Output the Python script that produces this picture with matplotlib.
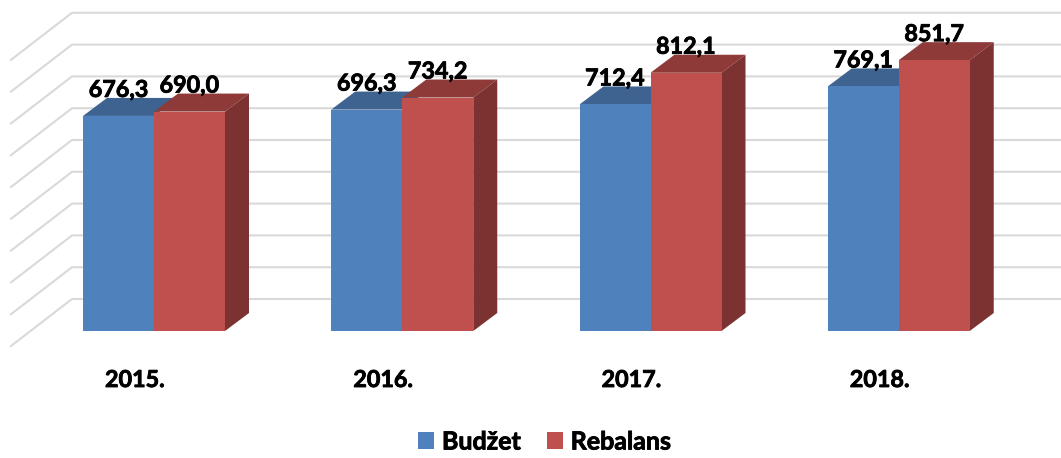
"""Budget vs rebalance bars, drawn in the fake 3D look of the original chart."""

import numpy as np
import matplotlib
matplotlib.use('Agg')
import matplotlib.pyplot as plt
import matplotlib.patheffects as pe
from matplotlib.patches import Patch

years = ['2015.', '2016.', '2017.', '2018.']
budzet = [676.3, 696.3, 712.4, 769.1]
rebalans = [690.0, 734.2, 812.1, 851.7]
series_names = ['Budžet', 'Rebalans']
grid_values = [0, 100, 200, 300, 400, 500, 600, 700, 800, 900]

BLUE, BLUE_TOP = '#4F81BD', '#3F6391'
RED, RED_TOP, RED_SIDE = '#C0504D', '#8E3A38', '#7B3230'
GRID = '#D9D9D9'

# scale of the axes: pixels per category and pixels per unit of value
PX_X = 248.25
PX_Y = 0.318
X0, Y0 = 154.0, 331.0  # pixel of category 0 / value 0
W, H = 1061, 458


def px_dx(p):
    return p / PX_X


def px_dy(p):
    return p / PX_Y


fig = plt.figure(figsize=(W / 100, H / 100), dpi=100)
ax = fig.add_axes([0, 0, 1, 1])
ax.set_xlim(-X0 / PX_X, (W - X0) / PX_X)
ax.set_ylim((Y0 - H) / PX_Y, Y0 / PX_Y)
ax.axis('off')

bar_w = px_dx(71)
depth_x, depth_y = px_dx(24), px_dy(18)
x = np.arange(len(years))

# gridlines: diagonal on the side wall then straight along the back wall
for v in grid_values:
    front = (px_dx(11 - X0), v - px_dy(15))
    back = (px_dx(72 - X0), v + px_dy(32))
    ax.plot([front[0], back[0], ax.get_xlim()[1]], [front[1], back[1], back[1]],
            color=GRID, lw=1.5, zorder=1, solid_joinstyle='miter')

for i in x:
    left = i - bar_w
    b, r = budzet[i], rebalans[i]
    # blue top, then the red box goes over it
    ax.fill([left, i, i + depth_x, left + depth_x], [b, b, b + depth_y, b + depth_y],
            color=BLUE_TOP, lw=0, zorder=2)
    ax.fill([i, i + bar_w, i + bar_w + depth_x, i + depth_x], [r, r, r + depth_y, r + depth_y],
            color=RED_TOP, lw=0, zorder=3)
    ax.fill([i + bar_w, i + bar_w + depth_x, i + bar_w + depth_x, i + bar_w],
            [0, depth_y, r + depth_y, r],
            color=RED_SIDE, lw=0, zorder=3)

ax.bar(x - bar_w / 2, budzet, bar_w, color=BLUE, lw=0, zorder=3)
ax.bar(x + bar_w / 2, rebalans, bar_w, color=RED, lw=0, zorder=4)

# Lato bold is a bit light next to the original, thicken it with a thin stroke
heavy = [pe.withStroke(linewidth=0.6, foreground='black')]
font = dict(family='Lato', fontweight='bold', fontsize=16.8, color='black', path_effects=heavy)

for i in x:
    ax.text(i - bar_w / 2, budzet[i] + px_dy(25.5), f'{budzet[i]:.1f}'.replace('.', ','),
            ha='center', va='center', zorder=5, **font)
    ax.text(i + bar_w / 2, rebalans[i] + px_dy(25.5), f'{rebalans[i]:.1f}'.replace('.', ','),
            ha='center', va='center', zorder=5, **font)
    ax.text(i - px_dx(19), -px_dy(49.5), years[i], ha='center', va='center', **font)

handles = [Patch(color=BLUE, lw=0, label=series_names[0]), Patch(color=RED, lw=0, label=series_names[1])]
legend = ax.legend(handles=handles, loc='center', bbox_to_anchor=(544.5 / W, 1 - 442 / H), ncol=2, frameon=False,
                   prop=dict(family='Lato', weight='bold', size=18),
                   handlelength=0.64, handleheight=0.64, handletextpad=0.32, columnspacing=1.04,
                   borderpad=0, borderaxespad=0)
for t in legend.get_texts():
    t.set_path_effects(heavy)

fig.savefig('out.png', dpi=100)
